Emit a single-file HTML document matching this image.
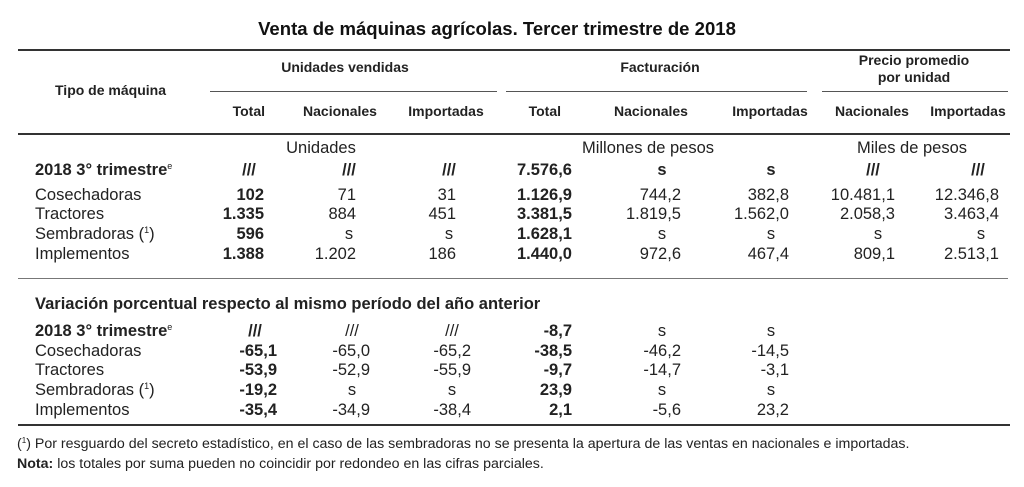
<!DOCTYPE html>
<html><head><meta charset="utf-8"><style>
body{margin:0;width:1024px;height:487px;background:#fff;position:relative;overflow:hidden;font-family:"Liberation Sans",Arial,sans-serif;color:#222}
div{position:absolute;white-space:nowrap}
.r{text-align:right;width:200px}
.c{text-align:center;width:200px}
.t{font-size:16.5px;line-height:18px}
.b{font-weight:bold}
.h{font-size:14px;font-weight:bold;line-height:16px;color:#222}
.ln{background:#333;height:2px}
.ln1{background:#555;height:1px}
.s{font-size:9px;font-weight:normal;position:relative;top:-6px;line-height:0}
</style></head><body>
<div style="left:0;width:994px;top:18px;text-align:center;font-family:'Liberation Sans Narrow','Liberation Sans',sans-serif;font-weight:bold;font-size:18px;line-height:22px;color:#111;transform:scaleX(1.03)">Venta de máquinas agrícolas. Tercer trimestre de 2018</div>
<div class="ln" style="left:18px;width:992px;top:49px"></div>
<div class="ln1" style="left:210px;width:287px;top:91px"></div>
<div class="ln1" style="left:506px;width:301px;top:91px"></div>
<div class="ln1" style="left:822px;width:186px;top:91px"></div>
<div class="ln" style="left:18px;width:992px;top:133px"></div>
<div class="ln1" style="left:18px;width:990px;top:278px;background:#777"></div>
<div class="ln" style="left:18px;width:992px;top:424px"></div>

<div class="h" style="left:55px;top:82px">Tipo de máquina</div>
<div class="h c" style="left:245px;top:59px">Unidades vendidas</div>
<div class="h c" style="left:560px;top:59px">Facturación</div>
<div class="h c" style="left:814px;top:52px;line-height:17px">Precio promedio<br>por unidad</div>
<div class="h r" style="left:65px;top:103px">Total</div>
<div class="h c" style="left:240px;top:103px">Nacionales</div>
<div class="h c" style="left:346px;top:103px">Importadas</div>
<div class="h r" style="left:361px;top:103px">Total</div>
<div class="h c" style="left:551px;top:103px">Nacionales</div>
<div class="h c" style="left:670px;top:103px">Importadas</div>
<div class="h c" style="left:772px;top:103px">Nacionales</div>
<div class="h c" style="left:868px;top:103px">Importadas</div>

<div class="t c" style="left:221px;top:139px">Unidades</div>
<div class="t c" style="left:548px;top:139px">Millones de pesos</div>
<div class="t c" style="left:812px;top:139px">Miles de pesos</div>

<div class="t b" style="left:35px;top:161px">2018 3° trimestre<span class="s">e</span></div>
<div class="t" style="left:35px;top:186px">Cosechadoras</div>
<div class="t" style="left:35px;top:205px">Tractores</div>
<div class="t" style="left:35px;top:225px">Sembradoras (<span class="s">1</span>)</div>
<div class="t" style="left:35px;top:245px">Implementos</div>

<div class="t b c" style="left:149px;top:161px">///</div>
<div class="t b c" style="left:249px;top:161px">///</div>
<div class="t b c" style="left:349px;top:161px">///</div>
<div class="t b r" style="left:372px;top:161px">7.576,6</div>
<div class="t b c" style="left:562px;top:161px">s</div>
<div class="t b c" style="left:671px;top:161px">s</div>
<div class="t b c" style="left:773px;top:161px">///</div>
<div class="t b c" style="left:878px;top:161px">///</div>

<div class="t b r" style="left:64px;top:186px">102</div>
<div class="t r" style="left:156px;top:186px">71</div>
<div class="t r" style="left:256px;top:186px">31</div>
<div class="t b r" style="left:372px;top:186px">1.126,9</div>
<div class="t r" style="left:481px;top:186px">744,2</div>
<div class="t r" style="left:589px;top:186px">382,8</div>
<div class="t r" style="left:695px;top:186px">10.481,1</div>
<div class="t r" style="left:799px;top:186px">12.346,8</div>

<div class="t b r" style="left:64px;top:205px">1.335</div>
<div class="t r" style="left:156px;top:205px">884</div>
<div class="t r" style="left:256px;top:205px">451</div>
<div class="t b r" style="left:372px;top:205px">3.381,5</div>
<div class="t r" style="left:481px;top:205px">1.819,5</div>
<div class="t r" style="left:589px;top:205px">1.562,0</div>
<div class="t r" style="left:695px;top:205px">2.058,3</div>
<div class="t r" style="left:799px;top:205px">3.463,4</div>

<div class="t b r" style="left:64px;top:225px">596</div>
<div class="t c" style="left:249px;top:225px">s</div>
<div class="t c" style="left:349px;top:225px">s</div>
<div class="t b r" style="left:372px;top:225px">1.628,1</div>
<div class="t c" style="left:562px;top:225px">s</div>
<div class="t c" style="left:671px;top:225px">s</div>
<div class="t c" style="left:778px;top:225px">s</div>
<div class="t c" style="left:881px;top:225px">s</div>

<div class="t b r" style="left:64px;top:245px">1.388</div>
<div class="t r" style="left:156px;top:245px">1.202</div>
<div class="t r" style="left:256px;top:245px">186</div>
<div class="t b r" style="left:372px;top:245px">1.440,0</div>
<div class="t r" style="left:481px;top:245px">972,6</div>
<div class="t r" style="left:589px;top:245px">467,4</div>
<div class="t r" style="left:695px;top:245px">809,1</div>
<div class="t r" style="left:799px;top:245px">2.513,1</div>

<div class="t b" style="left:35px;top:295px">Variación porcentual respecto al mismo período del año anterior</div>
<div class="t b" style="left:35px;top:322px">2018 3° trimestre<span class="s">e</span></div>
<div class="t" style="left:35px;top:342px">Cosechadoras</div>
<div class="t" style="left:35px;top:361px">Tractores</div>
<div class="t" style="left:35px;top:381px">Sembradoras (<span class="s">1</span>)</div>
<div class="t" style="left:35px;top:401px">Implementos</div>

<div class="t b c" style="left:155px;top:322px">///</div>
<div class="t c" style="left:252px;top:322px">///</div>
<div class="t c" style="left:352px;top:322px">///</div>
<div class="t b r" style="left:372px;top:322px">-8,7</div>
<div class="t c" style="left:562px;top:322px">s</div>
<div class="t c" style="left:671px;top:322px">s</div>

<div class="t b r" style="left:77px;top:342px">-65,1</div>
<div class="t r" style="left:170px;top:342px">-65,0</div>
<div class="t r" style="left:271px;top:342px">-65,2</div>
<div class="t b r" style="left:372px;top:342px">-38,5</div>
<div class="t r" style="left:481px;top:342px">-46,2</div>
<div class="t r" style="left:589px;top:342px">-14,5</div>

<div class="t b r" style="left:77px;top:361px">-53,9</div>
<div class="t r" style="left:170px;top:361px">-52,9</div>
<div class="t r" style="left:271px;top:361px">-55,9</div>
<div class="t b r" style="left:372px;top:361px">-9,7</div>
<div class="t r" style="left:481px;top:361px">-14,7</div>
<div class="t r" style="left:589px;top:361px">-3,1</div>

<div class="t b r" style="left:77px;top:381px">-19,2</div>
<div class="t c" style="left:252px;top:381px">s</div>
<div class="t c" style="left:352px;top:381px">s</div>
<div class="t b r" style="left:372px;top:381px">23,9</div>
<div class="t c" style="left:562px;top:381px">s</div>
<div class="t c" style="left:671px;top:381px">s</div>

<div class="t b r" style="left:77px;top:401px">-35,4</div>
<div class="t r" style="left:170px;top:401px">-34,9</div>
<div class="t r" style="left:271px;top:401px">-38,4</div>
<div class="t b r" style="left:372px;top:401px">2,1</div>
<div class="t r" style="left:481px;top:401px">-5,6</div>
<div class="t r" style="left:589px;top:401px">23,2</div>

<div style="left:17px;top:436px;font-size:14.2px;line-height:16px">(<span class="s" style="font-size:8px;top:-5px">1</span>) Por resguardo del secreto estadístico, en el caso de las sembradoras no se presenta la apertura de las ventas en nacionales e importadas.</div>
<div style="left:17px;top:456px;font-size:14.2px;line-height:16px"><b>Nota:</b> los totales por suma pueden no coincidir por redondeo en las cifras parciales.</div>
</body></html>
